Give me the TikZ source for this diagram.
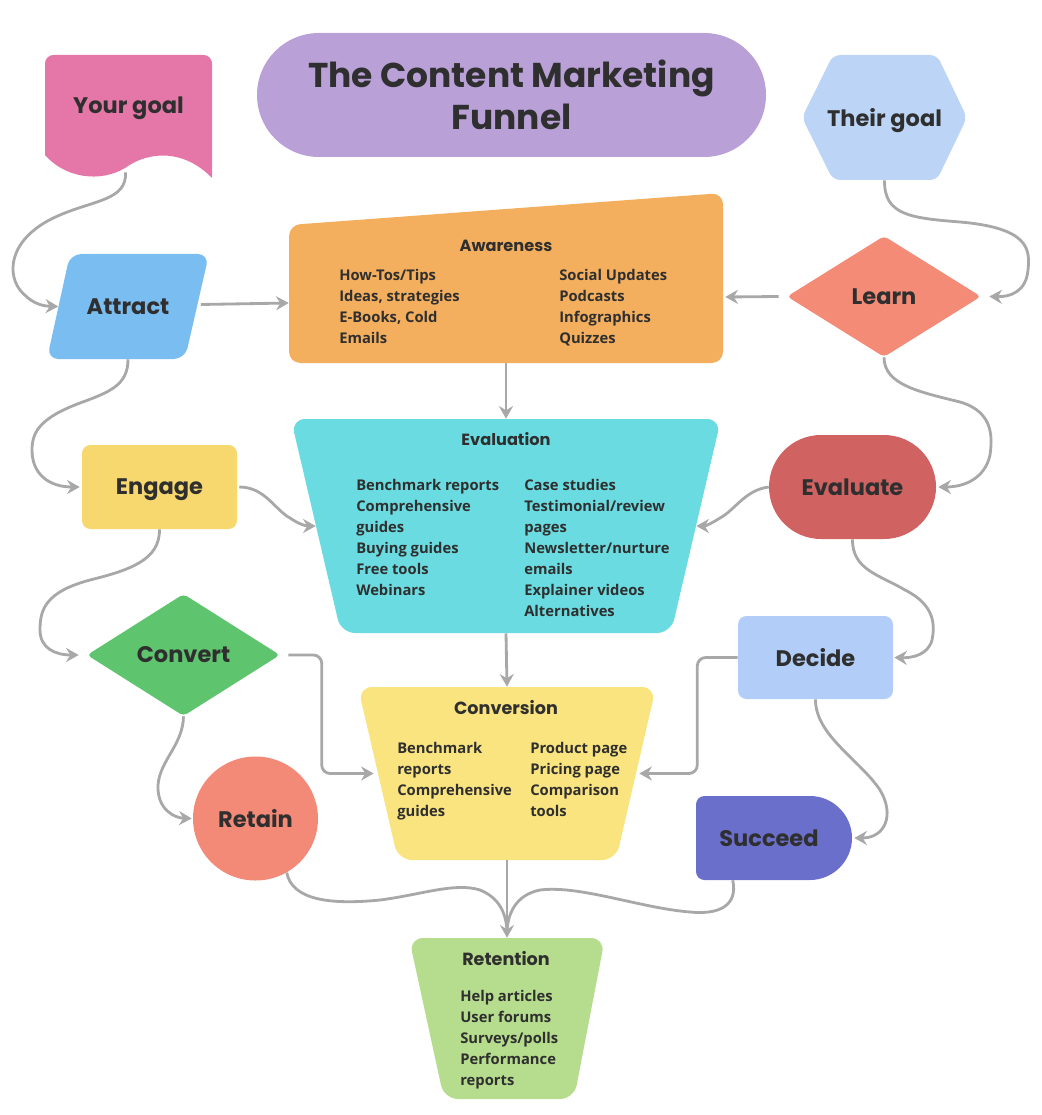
\documentclass[tikz,border=0pt]{standalone}
\usepackage{fontspec}
\setmainfont{Open Sans}
\newfontfamily\headfont{Poppins}
\usetikzlibrary{arrows.meta,calc,shapes.geometric}
\definecolor{ink}{HTML}{2F2F2F}
\definecolor{linegray}{HTML}{A8A8A8}
\definecolor{pinkc}{HTML}{E477A8}
\definecolor{titlec}{HTML}{B9A1D8}
\definecolor{theirc}{HTML}{BCD5F7}
\definecolor{attractc}{HTML}{7ABDF0}
\definecolor{awarec}{HTML}{F3AF5E}
\definecolor{learnc}{HTML}{F38B77}
\definecolor{evalc}{HTML}{6ADBE0}
\definecolor{engagec}{HTML}{F7D86E}
\definecolor{evaluatec}{HTML}{D06262}
\definecolor{convertc}{HTML}{5EC46E}
\definecolor{decidec}{HTML}{B2CEF8}
\definecolor{convc}{HTML}{F9E47F}
\definecolor{retainc}{HTML}{F28A77}
\definecolor{succeedc}{HTML}{6A6FCB}
\definecolor{retc}{HTML}{B5DD8D}
\begin{document}
\begin{tikzpicture}[x=0.025cm,y=-0.025cm,
  sz/.style 2 args={minimum width=#1*0.025cm, minimum height=#2*0.025cm},
  lbl/.style={font=\headfont\bfseries\fontsize{16}{19}\selectfont, text=ink, inner sep=0pt, text depth=0pt},
  sect/.style={font=\headfont\bfseries\fontsize{11.5}{14}\selectfont, text=ink, inner sep=0pt},
  items/.style={font=\bfseries\fontsize{10.5}{14.94}\selectfont, text=ink, align=left, anchor=north west, inner sep=0pt},
  area/.style={inner sep=0pt},
  conn/.style={draw=linegray, line width=2pt, -{Stealth[length=9pt,width=10pt,inset=3pt]}},
  plain/.style={draw=linegray, line width=2pt}
]
\useasboundingbox (0,0) rectangle (1041,1115);

% ---- custom shapes ----
\fill[pinkc] (45,155) [rounded corners=6] -- (45,55) -- (212,55) [sharp corners] -- (212,178)
  .. controls (185,150) and (150,150) .. (125,168) .. controls (100,183) and (65,178) .. (45,155) -- cycle;
\fill[theirc, rounded corners=5] (802,117.5) -- (833,55) -- (937,55) -- (967,117.5) -- (937,180) -- (833,180) -- cycle;
\fill[attractc, rounded corners=8] (70,254) -- (209,254) -- (185,359) -- (47,359) -- cycle;
\fill[awarec, rounded corners=8] (289,225) -- (723,193) -- (723,363) -- (289,363) -- cycle;
\fill[evalc, rounded corners=10] (291,419) -- (721,419) -- (671,633) -- (341,633) -- cycle;
\fill[convc, rounded corners=10] (358,687) -- (656,687) -- (616,860) -- (398,860) -- cycle;
\fill[retc, rounded corners=10] (409,938) -- (605,938) -- (574,1099) -- (444,1099) -- cycle;
\fill[succeedc] (810,880) [rounded corners=6] -- (696,880) -- (696,796) [sharp corners] -- (810,796)
  .. controls (833,796) and (852,815) .. (852,838) .. controls (852,861) and (833,880) .. (810,880) -- cycle;

% ---- nodes ----
\node[lbl, sz={167}{100}] (yourgoal) at (128.5,105) {Your goal};
\node[lbl, fill=titlec, rounded corners=1.55cm, sz={509}{124}, align=center,
      font=\headfont\bfseries\fontsize{24.5}{30}\selectfont] (title) at (511.5,95) {The Content Marketing\\Funnel};
\node[lbl, sz={165}{125}] (theirgoal) at (884.5,117.5) {Their goal};
\node[lbl, sz={139}{105}] (attract) at (128,306.5) {Attract};
\node[area, sz={434}{170}] (awareness) at (506,278) {};
\node[sect] (awtitle) at (506,246) {Awareness};
\node[items] (awleft) at (339,269) {How-Tos/Tips\\Ideas, strategies\\E-Books, Cold\\Emails};
\node[items] (awright) at (559,269) {Social Updates\\Podcasts\\Infographics\\Quizzes};
\node[lbl, shape=diamond, fill=learnc, sz={194}{121}, rounded corners=3pt] (learn) at (884,296.5) {Learn};

\node[area, sz={430}{214}] (evaluation) at (506,526) {};
\node[sect] (evtitle) at (506,439) {Evaluation};
\node[items] (evleft) at (356,479) {Benchmark reports\\Comprehensive\\guides\\Buying guides\\Free tools\\Webinars};
\node[items] (evright) at (524,479) {Case studies\\Testimonial/review\\pages\\Newsletter/nurture\\emails\\Explainer videos\\Alternatives};
\node[lbl, fill=engagec, rounded corners=6pt, sz={155}{84}] (engage) at (159.5,487) {Engage};
\node[lbl, fill=evaluatec, rounded corners=1.3cm, sz={167}{104}] (evaluate) at (852.5,487) {Evaluate};

\node[lbl, shape=diamond, fill=convertc, sz={193}{122}, rounded corners=3pt] (convert) at (183.5,655) {Convert};
\node[lbl, fill=decidec, rounded corners=6pt, sz={155}{83}] (decide) at (815.5,657.5) {Decide};
\node[area, sz={298}{173}] (conversion) at (507,773.5) {};
\node[sect, font=\headfont\bfseries\fontsize{12.5}{15}\selectfont] (cvtitle) at (506,708) {Conversion};
\node[items] (cvleft) at (397,742) {Benchmark\\reports\\Comprehensive\\guides};
\node[items] (cvright) at (530,742) {Product page\\Pricing page\\Comparison\\tools};
\node[lbl, shape=ellipse, fill=retainc, sz={125}{124}] (retain) at (255.5,818.5) {Retain};
\node[lbl, sz={156}{84}] (succeed) at (769,838) {Succeed};

\node[area, sz={196}{161}] (retention) at (507,1018.5) {};
\node[sect, font=\headfont\bfseries\fontsize{12.5}{15}\selectfont] (rttitle) at (506,959) {Retention};
\node[items] (rtlist) at (460,990) {Help articles\\User forums\\Surveys/polls\\Performance\\reports};

% ---- connectors ----
\draw[conn] ($(yourgoal.south)+(-3,17)$) .. controls (127,200) and (95,200) .. (60,215)
  .. controls (12,235) and (5,270) .. (20,290) .. controls (30,302) and (40,306) .. (attract.west);
\draw[conn] ($(attract.east)+(3,-2)$) -- ($(awareness.west)+(0,25)$);
\draw[conn] (theirgoal.south) .. controls (884,215) and (910,218) .. (960,222)
  .. controls (1030,228) and (1030,250) .. (1028,270) .. controls (1026,292) and (1010,297) .. ($(learn.east)+(8,0)$);
\draw[conn] ($(learn.west)+(-8,0)$) -- ($(awareness.east)+(2,19)$);
\draw[conn] (attract.south) .. controls (128,385) and (110,392) .. (80,403)
  .. controls (40,418) and (32,432) .. (32,450) .. controls (32,475) and (50,487) .. ($(engage.west)+(-2,0)$);
\draw[conn] (awareness.south) -- (evaluation.north);
\draw[conn] (learn.south) .. controls (884,385) and (920,392) .. (960,402)
  .. controls (995,412) and (992,440) .. (990,455) .. controls (985,478) and (965,487) .. ($(evaluate.east)+(2,0)$);
\draw[conn] ($(engage.east)+(2,0)$) .. controls (265,487) and (275,510) .. (290,518)
  .. controls (297,523) and (305,526) .. ($(evaluation.west)+(25,0)$);
\draw[conn] (evaluate.west) .. controls (745,490) and (735,510) .. (720,518)
  .. controls (712,523) and (706,526) .. ($(evaluation.east)+(-25,0)$);
\draw[conn] (engage.south) .. controls (160,560) and (130,570) .. (90,580)
  .. controls (45,592) and (40,610) .. (40,630) .. controls (40,648) and (55,655) .. ($(convert.west)+(-8,0)$);
\draw[conn] (evaluate.south) .. controls (852,570) and (880,575) .. (905,590)
  .. controls (935,605) and (935,625) .. (932,640) .. controls (928,655) and (912,658) .. ($(decide.east)+(1,0)$);
\draw[conn] (evaluation.south) -- (conversion.north);
\draw[conn, rounded corners=6] ($(convert.east)+(8,0)$) -| ($(conversion.west)+(-36,0)$) -- ($(conversion.west)+(16,0)$);
\draw[conn, rounded corners=6] (decide.west) -| ($(conversion.east)+(41,0)$) -- ($(conversion.east)+(-17,0)$);
\draw[conn] (convert.south) .. controls (183,745) and (160,760) .. (158,785)
  .. controls (157,810) and (175,818) .. ($(retain.west)+(-1,0)$);
\draw[conn] (decide.south) .. controls (815,735) and (860,760) .. (880,790)
  .. controls (895,815) and (885,838) .. ($(succeed.east)+(7,0)$);
\draw[plain] (retain.-60) .. controls (292,900) and (330,905) .. (380,900)
  .. controls (420,895) and (455,882) .. (480,890) .. controls (500,898) and (507,915) .. ($(retention.north)+(0,-4)$);
\draw[plain] ($(succeed.south west)+(42,0)$) .. controls (738,905) and (720,915) .. (690,912)
  .. controls (640,908) and (580,885) .. (540,890) .. controls (515,895) and (507,915) .. ($(retention.north)+(0,-4)$);
\draw[conn] (conversion.south) -- (retention.north);
\end{tikzpicture}
\end{document}
